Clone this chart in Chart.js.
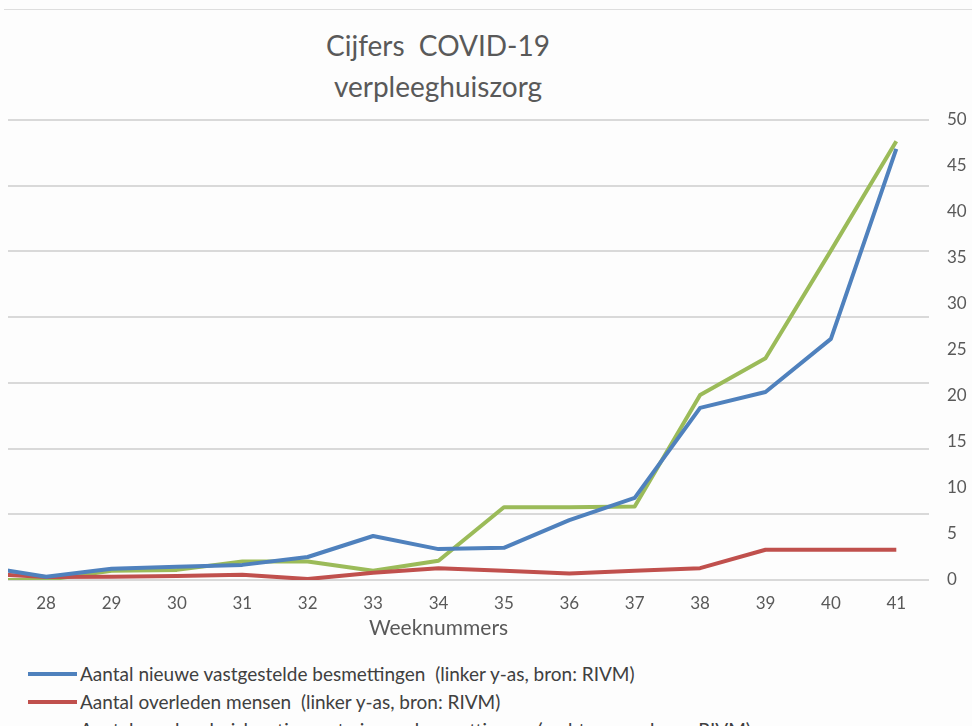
<!DOCTYPE html>
<html>
<head>
<meta charset="utf-8">
<script src="https://cdn.jsdelivr.net/npm/chart.js@4/dist/chart.umd.min.js"></script>
<style>
  body { margin: 0; background: #fdfdfd; font-family: Lato, "Open Sans", sans-serif; overflow: hidden; }
  #topline { position: absolute; left: 4px; right: 0; top: 9px; height: 1px; background: #dedede; }
  #title { position: absolute; left: 238px; width: 400px; top: 25px; text-align: center;
           color: #595959; font-size: 28px; line-height: 41px; white-space: pre; }
  #wrap { position: absolute; left: 8px; top: 0; width: 964px; height: 726px; overflow: hidden; }
  #box { position: absolute; left: -60px; top: 0; width: 1024px; height: 650px; }
  #legend { position: absolute; left: 0; top: 0; }
  .row { position: absolute; left: 0; height: 28px; white-space: pre; color: #404040; font-size: 19px; }
  .row .swatch { position: absolute; left: 28px; top: 12px; width: 49px; height: 4px; }
  .row .label { position: absolute; left: 80px; top: 2px; line-height: 24px; }
</style>
</head>
<body>
<div id="topline"></div>
<div id="title">Cijfers  COVID-19
verpleeghuiszorg</div>
<div id="wrap"><div id="box"><canvas id="chart"></canvas></div></div>
<div id="legend"></div>
<script>
const weeks = ['27', '28', '29', '30', '31', '32', '33', '34', '35', '36', '37', '38', '39', '40', '41'];
// linker y-as
const besmettingen = [2.1, 0.5, 1.7, 2.0, 2.3, 3.5, 6.7, 4.7, 4.9, 9.1, 12.5, 26.2, 28.6, 36.7, 65.6];
const overleden = [1.0, 0.45, 0.5, 0.6, 0.8, 0.15, 1.1, 1.8, 1.4, 1.0, 1.4, 1.8, 4.6, 4.6, 4.6];
// rechter y-as
const locaties = [0, 0, 1, 1.1, 2, 2, 1, 2.1, 7.9, 7.9, 8, 20.1, 24.1, 35.8, 47.7];
const rightTicks = [0, 5, 10, 15, 20, 25, 30, 35, 40, 45, 50];

const labels = [
  'Aantal nieuwe vastgestelde besmettingen  (linker y-as, bron: RIVM)',
  'Aantal overleden mensen  (linker y-as, bron: RIVM)',
  'Aantal verpleeghuislocaties met nieuwe besmettingen  (rechter y-as, bron: RIVM)'
];

const tickColor = '#595959';

function line(label, data, color, axis) {
  return {
    label, data, yAxisID: axis,
    borderColor: color, backgroundColor: color,
    borderWidth: 4, pointRadius: 0, tension: 0,
    borderJoinStyle: 'round'
  };
}

const chart = new Chart(document.getElementById('chart'), {
  type: 'line',
  data: {
    labels: weeks,
    datasets: [
      line(labels[0], besmettingen, '#4F81BD', 'y'),
      line(labels[1], overleden, '#C0504D', 'y'),
      line(labels[2], locaties, '#9BBB59', 'y2')
    ]
  },
  options: {
    responsive: true,
    maintainAspectRatio: false,
    animation: false,
    layout: { padding: { top: 120, left: 0, right: 0, bottom: 0 } },
    plugins: { legend: { display: false }, tooltip: { enabled: false } },
    scales: {
      x: {
        offset: true,
        grid: { display: false },
        border: { display: false },
        ticks: { color: tickColor, font: { family: 'Lato', size: 17 }, padding: 5, maxRotation: 0, autoSkip: false },
        title: { display: true, text: 'Weeknummers', color: tickColor, font: { family: 'Lato', size: 21 }, padding: { top: 0, bottom: 9 } },
        afterFit: (s) => { s.height = 70; }
      },
      y: {
        position: 'left',
        min: 0, max: 70,
        ticks: { display: false, stepSize: 10 },
        grid: { color: '#d9d9d9', lineWidth: 2, drawTicks: false },
        border: { display: false },
        afterFit: (s) => { s.width = 0; }
      },
      y2: {
        position: 'right',
        min: 0, max: 50,
        afterBuildTicks: (s) => { s.ticks = rightTicks.map(v => ({ value: v })); },
        ticks: { color: tickColor, font: { family: 'Lato', size: 17 }, padding: 18 },
        grid: { display: false, drawTicks: false },
        border: { display: false },
        afterFit: (s) => { s.width = 43; }
      }
    }
  }
});

// legenda onder de grafiek
const legend = document.getElementById('legend');
chart.data.datasets.forEach((ds, i) => {
  const row = document.createElement('div');
  row.className = 'row';
  row.style.top = (660 + i * 28) + 'px';
  row.innerHTML = '<span class="swatch" style="background:' + ds.borderColor + '"></span><span class="label"></span>';
  row.querySelector('.label').textContent = ds.label;
  legend.appendChild(row);
});
</script>
</body>
</html>
